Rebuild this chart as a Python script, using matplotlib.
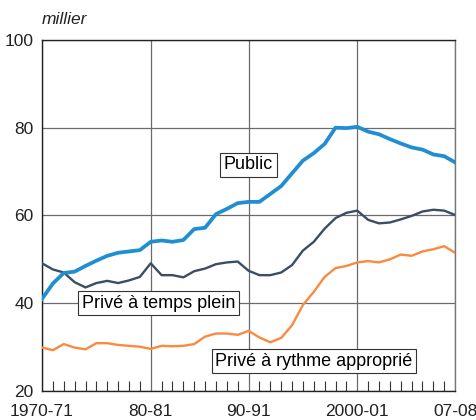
import numpy as np
import matplotlib
matplotlib.use("Agg")
import matplotlib.pyplot as plt

# effectifs (milliers), une valeur par année scolaire
public = [41.0, 44.5, 46.9, 47.2, 48.5, 49.7, 50.8, 51.5, 51.8, 52.1,
          54.0, 54.3, 54.0, 54.4, 56.9, 57.2, 60.3, 61.5, 62.8, 63.1,
          63.1, 64.9, 66.7, 69.6, 72.5, 74.2, 76.3, 80.0, 79.9, 80.2,
          79.1, 78.5, 77.4, 76.4, 75.5, 75.0, 73.9, 73.5, 72.1]
prive_plein = [49.1, 47.7, 47.0, 44.8, 43.6, 44.6, 45.1, 44.6, 45.2, 46.0,
               49.1, 46.4, 46.4, 45.9, 47.3, 47.9, 48.9, 49.3, 49.5, 47.4,
               46.4, 46.4, 47.0, 48.7, 52.0, 54.0, 57.0, 59.4, 60.6, 61.1,
               59.0, 58.2, 58.4, 59.1, 59.9, 60.9, 61.3, 61.1, 60.1]
prive_rythme = [29.9, 29.3, 30.7, 29.9, 29.5, 30.9, 30.9, 30.5, 30.3, 30.1,
                29.6, 30.3, 30.2, 30.3, 30.7, 32.4, 33.1, 33.1, 32.8, 33.7,
                32.2, 31.1, 32.1, 35.0, 39.6, 42.6, 46.0, 48.0, 48.5, 49.3,
                49.6, 49.3, 50.0, 51.1, 50.8, 51.8, 52.3, 53.0, 51.5]

tick_pos = [0, 10, 19, 29, 38]
tick_labels = ["1970-71", "80-81", "90-91", "2000-01", "07-08"]

plt.rcParams["font.family"] = ["Liberation Sans", "DejaVu Sans"]


def make_plot():
    fig = plt.figure(figsize=(4.77, 4.20), dpi=100)
    ax = fig.add_axes([0.0881, 0.069, 0.866, 0.836])
    x = np.arange(len(public))

    ax.plot(x, prive_rythme, color="#f98a3f", lw=1.7, zorder=3)
    ax.plot(x, prive_plein, color="#3a4d66", lw=1.7, zorder=3)
    ax.plot(x, public, color="#1f8ed3", lw=2.7, zorder=4)

    ax.set_xlim(0, len(public) - 1)
    ax.set_ylim(20, 100)
    ax.set_yticks([20, 40, 60, 80, 100])
    ax.set_xticks(tick_pos)
    ax.set_xticklabels(tick_labels)
    ax.set_xticks(x, minor=True)
    ax.tick_params(axis="both", which="major", length=0, labelsize=12.5,
                   colors="#222222")
    ax.tick_params(axis="x", which="major", pad=9)
    ax.tick_params(axis="y", which="major", pad=6)
    ax.tick_params(axis="x", which="minor", direction="in", length=7,
                   width=0.8, color="#333333")

    ax.grid(True, which="major", color="#6b6b6b", lw=0.9, zorder=1)
    for side in ("left", "bottom", "top"):
        ax.spines[side].set_color("#222222")
        ax.spines[side].set_linewidth(1.0)
    ax.spines["right"].set_color("#777777")
    ax.spines["right"].set_linewidth(1.0)

    box = dict(boxstyle="square,pad=0.2", fc="white", ec="#333333", lw=0.8)
    ax.text(19, 71.5, "Public", fontsize=13, ha="center", va="center",
            bbox=box, zorder=5)
    ax.text(10.7, 40.0, "Privé à temps plein", fontsize=13, ha="center",
            va="center", bbox=box, zorder=5)
    ax.text(25.0, 26.8, "Privé à rythme approprié", fontsize=13,
            ha="center", va="center", bbox=box, zorder=5)

    ax.text(0, 1.057, "millier", transform=ax.transAxes, fontsize=12.5,
            style="italic", ha="left", va="center", color="#222222")
    return fig, ax


def main() -> None:
    fig, _ = make_plot()
    fig.savefig("out.png", dpi=100)


if __name__ == "__main__":
    main()
